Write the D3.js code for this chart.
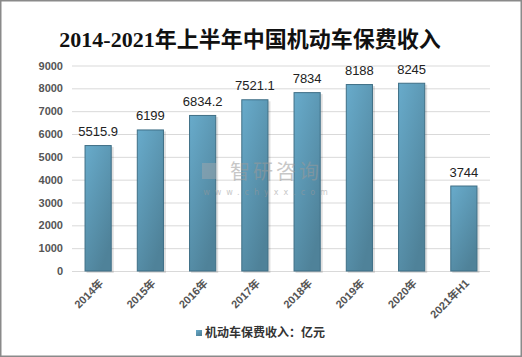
<!DOCTYPE html>
<html><head><meta charset="utf-8">
<script src="https://cdn.jsdelivr.net/npm/d3@7"></script>
<style>body{margin:0;background:#fff;}svg{display:block;}</style>
</head><body>
<script>
const categories = ["2014年","2015年","2016年","2017年","2018年","2019年","2020年","2021年H1"];
const values = [5515.9, 6199, 6834.2, 7521.1, 7834, 8188, 8245, 3744];
const valueLabels = ["5515.9","6199","6834.2","7521.1","7834","8188","8245","3744"];
const yTicks = [0,1000,2000,3000,4000,5000,6000,7000,8000,9000];
const title = "2014-2021年上半年中国机动车保费收入";
const legendLabel = "机动车保费收入：亿元";

const W = 522, H = 357;
const svg = d3.select("body").append("svg").attr("width", W).attr("height", H);
const defs = svg.append("defs");
const g1 = defs.append("linearGradient").attr("id","barGrad").attr("x1","0").attr("y1","0").attr("x2","0.6").attr("y2","1");
g1.append("stop").attr("offset","0%").attr("stop-color","#68abcb");
g1.append("stop").attr("offset","100%").attr("stop-color","#4f8299");

svg.append("rect").attr("x",0.75).attr("y",0.75).attr("width",W-1.5).attr("height",H-1.5)
  .attr("fill","#fff").attr("stroke","#8a8a8a").attr("stroke-width",1.5);

svg.append("text").attr("x",250).attr("y",47).attr("text-anchor","middle")
  .style("font-family","'Liberation Serif','Noto Sans CJK SC',serif").style("font-weight","bold")
  .style("font-size","22px").attr("fill","#111").text(title);

const x = d3.scaleBand().domain(categories).range([72,490]).paddingInner(0.48).paddingOuter(0.24);
const y = d3.scaleLinear().domain([0,9000]).range([271,65.5]);

// gridlines
svg.append("g").selectAll("line").data(yTicks).join("line")
  .attr("x1",72).attr("x2",490).attr("y1",d=>y(d)+0.5).attr("y2",d=>y(d)+0.5)
  .attr("stroke","#d9d9d9").attr("stroke-width",1);

const yAxis = svg.append("g").attr("transform","translate(72,0)")
  .call(d3.axisLeft(y).tickValues(yTicks).tickFormat(d3.format("d")).tickSize(0).tickPadding(9));
yAxis.select(".domain").remove();
yAxis.selectAll("text").style("font-family","'Liberation Sans',Arial,sans-serif").style("font-weight","bold")
  .style("font-size","11px").attr("fill","#555");

// shadow bars
svg.append("g").selectAll("rect").data(values).join("rect")
  .attr("x",(d,i)=>x(categories[i])+2).attr("y",d=>y(d)+2)
  .attr("width",x.bandwidth()).attr("height",d=>y(0)-y(d))
  .attr("fill","#000").attr("opacity",0.12);

svg.append("g").selectAll("rect").data(values).join("rect")
  .attr("x",(d,i)=>x(categories[i])+0.5).attr("y",d=>y(d)+0.5)
  .attr("width",x.bandwidth()-1).attr("height",d=>y(0)-y(d)-0.5)
  .attr("fill","url(#barGrad)").attr("stroke","#3f6f86").attr("stroke-width",1);

// watermark (on top, semi-transparent)
const wm = svg.append("g").attr("opacity",0.55);
wm.append("rect").attr("x",202).attr("y",163).attr("width",14).attr("height",16).attr("fill","#9aa6ae");
wm.append("text").attr("x",276).attr("y",179).attr("text-anchor","middle")
  .style("font-family","'Noto Sans CJK SC',sans-serif").style("font-size","20px")
  .attr("fill","#9a9a9a").attr("letter-spacing","3").text("智研咨询");
wm.append("text").attr("x",268).attr("y",195).attr("text-anchor","middle")
  .style("font-family","'DejaVu Sans',sans-serif").style("font-size","8px")
  .attr("fill","#9a9a9a").attr("letter-spacing","5").text("www.chyxx.com");

// value labels
svg.append("g").selectAll("text").data(values).join("text")
  .attr("x",(d,i)=>x(categories[i])+x.bandwidth()/2).attr("y",d=>y(d)-9)
  .attr("text-anchor","middle")
  .style("font-family","'Liberation Sans',Arial,sans-serif").style("font-size","13px")
  .attr("fill","#222").text((d,i)=>valueLabels[i]);

// x labels
svg.append("g").selectAll("text").data(categories).join("text")
  .attr("transform",d=>`translate(${x(d)+x.bandwidth()/2+6},${284}) rotate(-45)`)
  .attr("text-anchor","end")
  .style("font-family","'Liberation Sans','Noto Sans CJK SC',sans-serif").style("font-weight","bold")
  .style("font-size","11px").attr("fill","#555").text(d=>d);

// legend
svg.append("rect").attr("x",196).attr("y",330).attr("width",6).attr("height",6).attr("fill","url(#barGrad)");
svg.append("text").attr("x",205).attr("y",337)
  .style("font-family","'Noto Sans CJK SC',sans-serif").style("font-weight","bold")
  .style("font-size","12px").attr("fill","#333").text(legendLabel);
</script>
</body></html>
